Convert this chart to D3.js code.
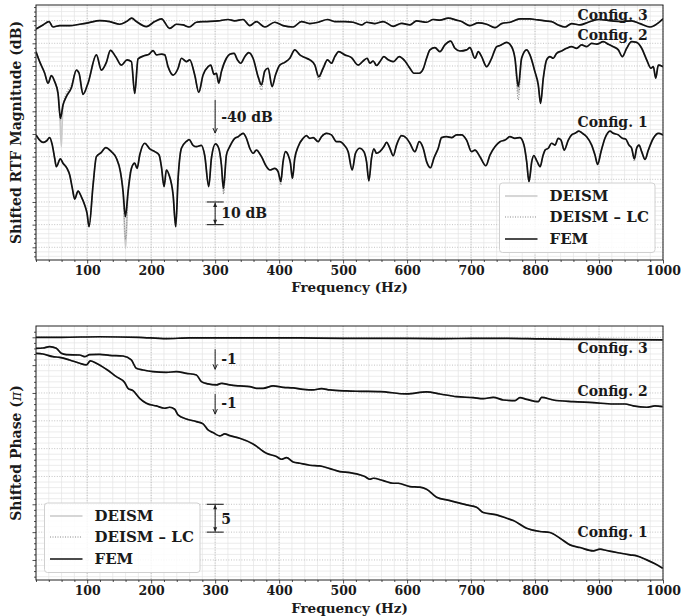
<!DOCTYPE html>
<html><head><meta charset="utf-8">
<script src="https://cdn.jsdelivr.net/npm/d3@7"></script>
<style>
body{margin:0;background:#fff}
svg{display:block}
text{font-family:"DejaVu Serif",serif;font-weight:bold;fill:#1a1a1a}
</style>
</head><body>
<svg id="c" width="697" height="616"></svg>
<script>
// ---------------- DATA ----------------
// Top panel: shifted RTF magnitude (dB), FEM
const magFreq3 = [20,30.9,40.3,46.6,57,72.7,88.3,101.3,119.6,135.2,150.9,161.3,169.6,176.9,192.6,205.6,216,229,239.5,249.9,259.3,270.8,283.7,304.6,320.2,330.7,343.7,354.1,364.5,377.6,393.2,406.2,421.9,434.9,447.9,461,475.6,487,502.7,515.7,528.8,536.6,549.7,562.7,578.3,591.4,604.4,614.8,630.5,640.9,651.3,664.3,677.4,685.2,698.2,711.3,724.3,737.3,747.8,760.8,776.4,792.1,799.8,815.5,825.9,836.3,846.8,857.2,870.2,883.2,898.9,919.7,935.4,951,964,979.7,1000];
const magFem3 = [-3.7,-1.9,-0.4,-2.8,-2.2,-2.2,-1.6,-1.0,0.0,-0.4,-1.6,-0.4,1.1,-0.4,-2.6,-0.4,0.8,-3.4,-1.6,-1.9,-2.8,-0.7,-0.4,-0.1,0.5,-0.1,0.5,-2.2,-0.4,-2.8,-0.7,-2.2,-2.8,-0.4,-1.3,-0.7,0.5,-0.4,-0.4,-0.7,-1.9,-0.7,-1.3,-0.4,-2.5,-1.2,-1.9,-0.1,-0.7,0.5,0.2,1.1,0.2,-0.4,-2.2,-1.0,-1.6,-3.1,-1.3,-0.7,0.8,0.8,0.5,-0.1,-0.4,-1.9,-2.8,-1.3,-1.9,-0.7,0.5,-0.1,-0.4,-0.1,-1.3,-2.8,0.8];

const magFreq2 = [20,25.7,33.6,38.8,44,49.2,54.4,58.1,62.2,67.4,75.3,83.1,87.3,93.5,101.3,114.4,122.2,130,136.3,144.6,153.5,162.3,169.1,174.3,179.5,189.9,196.7,203,208.2,216,221.2,226.4,234.3,242.1,247.3,255.1,260.3,268.1,274.4,281.1,289,293.1,298.3,302,305.6,309.8,317.6,322.8,329.6,334.8,340,346.3,352.5,359.3,367.1,372.4,377.6,382.8,389,394.3,401,408.9,416.7,424.5,432.3,440.1,448,455.8,462,468.8,475.6,481.8,487,493.3,502.7,513.1,523.5,531.4,537.7,541.8,547,552.3,557.5,563.7,570.5,578.3,587.7,596.6,604.4,610.7,619,625.2,630.5,635.7,643.5,651.3,659.1,668,674.8,682.6,693,698.2,706.1,711.3,716.5,724.3,732.1,740,745.2,755.6,763.4,768.6,773.8,779,786.9,792,799.8,805.1,808.7,812.9,818.1,823.3,828.5,833.7,841.5,849.4,857.2,865,872.8,880.6,888.5,896.3,906.7,914.5,922.3,930.2,936.4,943.2,951,958.8,966.7,974.5,981.2,984.9,988.6,992.7,1000];
const magFem2 = [-13.7,-18.1,-23.2,-27.6,-24.3,-26.9,-32.1,-43.1,-37.2,-33.5,-29.6,-21.8,-23.2,-32.5,-27.6,-15.1,-21.8,-18.4,-13.1,-15.9,-19.6,-17.3,-18.1,-32.1,-16.9,-15.4,-14.8,-13.2,-15.1,-14.8,-15.1,-20.3,-24.0,-21.0,-16.6,-18.1,-17.3,-24.0,-31.6,-24.0,-20.3,-19.6,-23.7,-23.2,-27.6,-22.5,-16.6,-14.8,-14.4,-17.3,-18.8,-15.9,-14.1,-16.6,-24.7,-28.4,-22.2,-21.0,-29.1,-24.0,-19.6,-18.4,-16.6,-12.9,-15.1,-16.3,-17.3,-19.6,-24.7,-21.0,-17.3,-18.8,-15.9,-13.7,-15.1,-16.3,-19.6,-17.8,-16.6,-18.8,-17.8,-19.8,-18.1,-15.9,-17.3,-18.1,-15.9,-17.8,-21.0,-23.2,-23.2,-21.3,-16.6,-12.9,-11.9,-13.7,-10.7,-9.0,-12.2,-13.4,-12.9,-11.9,-16.6,-13.7,-15.9,-20.3,-16.6,-11.5,-11.0,-9.6,-11.5,-16.6,-29.1,-16.6,-12.9,-15.1,-22.5,-28.4,-36.5,-25.4,-17.3,-15.9,-16.6,-14.4,-13.4,-12.2,-11.5,-12.2,-10.7,-11.5,-10.0,-10.4,-9.3,-10.4,-11.5,-12.9,-15.9,-12.2,-9.3,-9.6,-12.2,-17.3,-21.0,-20.3,-25.4,-19.6,-20.3];

const magFreq1 = [20,25.7,31,36.2,41.4,45.5,49.2,51.8,58.1,62.2,68.5,72.7,76.8,80.5,85.7,90.9,96.1,99.8,102.9,109.2,114.4,122.2,129,137.8,145.6,151.9,156.1,159.7,163.9,169.1,174.3,178,182.1,190,197.8,205.6,212.4,216,220.2,223.8,228,234.3,238.4,242.1,247.3,255.1,259.3,265.5,270.7,278.5,283.7,290,294.2,300.5,305.6,309.8,312.9,317.6,322.8,330.7,335.9,343.7,348.9,354.1,359.3,364.5,372.4,380.2,385.4,393.2,398.4,402.6,406.2,409.9,414.1,417.7,420.8,424.5,429.7,437.5,442.7,447.9,453.2,461,466.2,474,481.8,489.6,494.9,501.6,507.9,514.2,519.4,526.1,532.5,536.6,540.3,544.4,548.1,552.3,557.5,563.7,567.9,573.1,578.3,583.5,591.4,599.2,604.4,612.2,619,625.2,630.5,636.7,641.9,648.7,653.9,661.7,669.6,677.4,685.2,693,700.8,706.1,713.9,723.2,729.5,737.3,745.2,753,760.8,768.6,776.4,782.7,786.9,790.5,795,798,803,808,812,816,820.7,825.9,831.1,836.3,840.5,845.7,852,857.2,862.4,868.6,873.9,880.6,888.5,893.7,897.8,903.1,909.3,917.1,922.3,930.2,936.4,941.6,946.8,951,955.2,958.8,962.5,966.7,971.9,977.1,984.9,992.7,1000];
const magFem1 = [-50.4,-52.7,-53.7,-53.1,-51.6,-54.9,-60.7,-64.4,-61.0,-62.9,-65.2,-68.1,-74.0,-78.7,-75.2,-77.7,-81.3,-85.0,-90.9,-72.5,-60.0,-58.1,-56.0,-57.8,-60.7,-66.6,-75.5,-86.5,-75.5,-65.2,-62.9,-65.2,-59.3,-54.1,-56.6,-57.8,-59.3,-64.4,-73.2,-65.9,-68.1,-76.9,-90.9,-69.6,-56.3,-53.3,-52.5,-55.0,-55.6,-55.0,-59.5,-73.2,-60.7,-54.4,-56.3,-63.7,-74.0,-59.3,-55.6,-51.9,-51.2,-49.7,-51.9,-56.3,-58.5,-57.1,-60.0,-64.4,-65.9,-65.2,-66.6,-71.0,-62.2,-57.8,-59.3,-62.9,-69.6,-60.7,-55.6,-51.9,-50.7,-51.9,-51.6,-53.4,-51.2,-49.7,-50.4,-53.4,-53.4,-54.9,-57.8,-65.9,-58.5,-56.3,-57.8,-62.2,-70.7,-60.7,-56.6,-58.5,-57.8,-55.6,-53.7,-56.3,-59.6,-54.9,-50.7,-51.9,-54.1,-57.8,-53.4,-56.3,-62.2,-64.9,-60.7,-56.3,-51.6,-51.2,-51.6,-50.4,-50.4,-52.7,-57.8,-57.1,-60.0,-64.0,-59.3,-55.6,-53.4,-52.7,-51.2,-51.9,-51.6,-54.9,-62.2,-71.0,-62.0,-59.5,-62.0,-64.4,-60.0,-57.0,-56.3,-54.1,-54.9,-51.9,-52.7,-57.1,-52.7,-50.4,-49.7,-48.7,-49.7,-51.2,-54.9,-59.3,-63.4,-57.8,-51.9,-48.7,-49.7,-50.4,-51.9,-52.2,-54.9,-56.3,-61.0,-56.3,-54.9,-57.8,-61.2,-57.1,-51.9,-49.7,-50.4];

// DEISM / DEISM-LC deviations from FEM near deep notches ([Hz, dB])
const deismDips2 = [[[54.4,-32.1],[57.0,-40.0],[59.6,-55.6],[61.0,-45.0],[62.2,-37.2]], [[768.6,-16.6],[773.8,-32.0],[779,-16.6]]];
const deismLcDips2 = [[[54.4,-31.5],[58.1,-44.0],[60.5,-41.0],[63.5,-35.5],[67.4,-32.0],[75.3,-28.6]], [[367.1,-24.7],[372.4,-30.6],[377.6,-22.2]], [[462,-26.2]], [[768.6,-16.6],[773.8,-35.0],[779,-16.6]]];
const deismDips1 = [[[156.1,-75.5],[160.0,-100.5],[163.9,-75.5]], [[309.8,-63.7],[313.2,-75.5],[317.6,-59.3]]];
const deismLcDips1 = [[[156.1,-75.5],[160.0,-96.5],[163.9,-75.5]], [[309.8,-63.7],[313.2,-76.5],[317.6,-59.3]], [[402.6,-72.5]], [[955.2,-62.0]]];

// Bottom panel: shifted phase (pi), FEM
const phFreq3 = [20,60,119.5,180,223.8,260,328,380,432.3,500,560,651.3,700,755.6,810,859.8,930,999.5];
const phFem3 = [0.0,0.0,0.1,0.0,-0.24,-0.1,-0.12,-0.1,-0.12,-0.18,-0.18,-0.24,-0.2,-0.18,-0.3,-0.36,-0.4,-0.48];

const phFreq2 = [20,30.9,41.3,51.7,59.5,67.4,88.2,96,103.9,119.5,135.1,156,169,176.8,187.3,202.9,223.8,239.4,255,270.7,278.5,288.9,301.9,309.8,322.8,338.4,354.1,364.5,374.9,390.6,406.2,421.9,437.5,453.1,466.2,479.2,505.3,526.2,557.5,599.2,630.4,651.3,677.4,703.4,719.1,734.7,750.3,768.6,776.4,786.8,805.1,810.3,828.5,859.8,891.1,922.4,940.6,953.6,974.5,987.5,999.5];
const phFem2 = [-1.98,-1.92,-1.68,-1.98,-2.88,-3.12,-3.18,-3.48,-3.12,-3.06,-3.24,-3.36,-4.07,-5.57,-5.87,-6.17,-6.29,-6.17,-6.47,-6.77,-7.96,-8.38,-8.56,-8.26,-8.56,-8.74,-8.86,-9.16,-9.16,-8.74,-8.98,-9.10,-9.34,-9.46,-9.22,-9.46,-9.64,-9.70,-9.76,-10.18,-9.82,-10.18,-10.66,-10.84,-11.02,-10.78,-11.26,-11.38,-10.84,-11.14,-11.56,-10.78,-11.26,-11.56,-11.74,-11.98,-11.98,-12.33,-12.57,-12.33,-12.45];

const phFreq1 = [20,30.9,46.5,56.9,72.6,88.2,98.6,104.9,114.3,129.9,145.6,158.6,163.8,171.6,182,192.5,208.1,221.1,229,236.8,242,255,270.7,281.1,288.9,296.7,307.2,315,322.8,338.4,359.3,380.1,395.8,403.6,411.4,421.9,432.3,447.9,463.5,479.2,494.8,510.5,521,534,541.8,547,562.7,578.3,586.1,604.4,620,630.4,646.1,666.9,693,708.6,719.1,739.9,755.6,766,786.8,794.6,807.7,823.3,839,854.6,870.2,891.1,901.5,911.9,927.6,948.4,958.9,974.5,987.5,999.5];
const phFem1 = [-2.88,-3.00,-3.48,-3.60,-4.07,-4.67,-4.97,-4.25,-4.67,-5.75,-7.07,-8.14,-9.16,-9.58,-10.96,-11.85,-12.33,-12.75,-12.57,-12.93,-13.95,-14.67,-15.14,-15.56,-16.64,-17.12,-17.72,-17.36,-17.66,-18.14,-19.15,-20.83,-21.43,-21.91,-21.61,-22.39,-22.63,-22.98,-23.10,-23.58,-24.12,-24.30,-24.54,-25.02,-25.50,-25.32,-25.74,-26.22,-26.22,-26.81,-26.93,-27.29,-28.73,-29.33,-30.11,-30.52,-31.48,-31.90,-32.50,-32.92,-34.29,-34.59,-34.89,-35.07,-36.09,-37.29,-37.76,-38.36,-38.06,-38.30,-38.66,-39.08,-39.26,-39.98,-40.70,-41.48];

// Axis ticks
const freqTicks = [100,200,300,400,500,600,700,800,900,1000];
const configLabels = ["Config. 1","Config. 2","Config. 3"];
const legendLabels = ["DEISM","DEISM \u2013 LC","FEM"];

// ---------------- CHART ----------------
const svg = d3.select("#c");
const L = 36, R = 663;
const x = d3.scaleLinear().domain([20,1000]).range([L,R]);
const yMag = d3.scaleLinear().domain([-105.6,6.9]).range([260,5]);
const yPh = d3.scaleLinear().domain([-43.6,2.03]).range([580,326]);

const defs = svg.append("defs");
function clip(id, y0, y1){
  defs.append("clipPath").attr("id",id).append("rect").attr("x",L).attr("y",y0).attr("width",R-L).attr("height",y1-y0);
}
clip("cp1",5,260); clip("cp2",326,580);

function zip(fs, vs){ return fs.map((f,i)=>[f,vs[i]]); }
function withDips(fs, vs, dips){
  let pts = zip(fs, vs);
  dips.forEach(seg=>{
    const lo = seg[0][0], hi = seg[seg.length-1][0];
    pts = pts.filter(p=>p[0]<lo||p[0]>hi).concat(seg);
  });
  return pts.sort((a,b)=>a[0]-b[0]);
}

function panel(y, y0, y1, majorY, minorY, clipId){
  const g = svg.append("g");
  d3.range(20,1001,20).forEach(f=>{
    g.append("line").attr("x1",x(f)).attr("x2",x(f)).attr("y1",y0).attr("y2",y1)
      .attr("stroke","#e4e4e4").attr("stroke-width",0.7);
  });
  minorY.forEach(v=>{
    g.append("line").attr("x1",L).attr("x2",R).attr("y1",y(v)).attr("y2",y(v))
      .attr("stroke","#e4e4e4").attr("stroke-width",0.7);
  });
  freqTicks.forEach(f=>{
    g.append("line").attr("x1",x(f)).attr("x2",x(f)).attr("y1",y0).attr("y2",y1)
      .attr("stroke","#b4b4b4").attr("stroke-width",0.8).attr("stroke-dasharray","1,1.6");
  });
  majorY.forEach(v=>{
    g.append("line").attr("x1",L).attr("x2",R).attr("y1",y(v)).attr("y2",y(v))
      .attr("stroke","#b4b4b4").attr("stroke-width",0.8).attr("stroke-dasharray","1,1.6");
  });
  const lg = svg.append("g").attr("clip-path",`url(#${clipId})`);
  return {g, lg};
}

function frameAndAxes(y, y0, y1, majorY, minorY){
  const g = svg.append("g");
  const xa = g.append("g").attr("transform",`translate(0,${y1})`)
    .call(d3.axisBottom(x).tickValues(freqTicks).tickSize(3.5).tickPadding(3).tickFormat(d3.format("d")));
  xa.select(".domain").remove();
  xa.selectAll("text").attr("font-size",12.5).attr("font-family","DejaVu Serif").attr("font-weight","bold").attr("fill","#1a1a1a");
  const xm = g.append("g").attr("transform",`translate(0,${y1})`)
    .call(d3.axisBottom(x).tickValues(d3.range(20,1001,20).filter(f=>f%100)).tickSize(2).tickFormat(""));
  xm.select(".domain").remove();
  const ya = g.append("g").attr("transform",`translate(${L},0)`)
    .call(d3.axisLeft(y).tickValues(majorY).tickSize(3.5).tickFormat(""));
  ya.select(".domain").remove();
  const ym = g.append("g").attr("transform",`translate(${L},0)`)
    .call(d3.axisLeft(y).tickValues(minorY).tickSize(2).tickFormat(""));
  ym.select(".domain").remove();
  g.selectAll(".tick line").attr("stroke","#222").attr("stroke-width",0.8);
  g.append("rect").attr("x",L).attr("y",y0).attr("width",R-L).attr("height",y1-y0)
    .attr("fill","none").attr("stroke","#222").attr("stroke-width",1);
}

function drawLines(lg, y, series){
  const line = d3.line().x(d=>x(d[0])).y(d=>y(d[1])).curve(d3.curveMonotoneX);
  series.forEach(s=>{
    lg.append("path").datum(s.deism).attr("d",line).attr("fill","none")
      .attr("stroke","#c9c9c9").attr("stroke-width",1.6);
  });
  series.forEach(s=>{
    lg.append("path").datum(s.lc).attr("d",line).attr("fill","none")
      .attr("stroke","#8a8a8a").attr("stroke-width",1.1).attr("stroke-dasharray","1,1.5");
  });
  series.forEach(s=>{
    lg.append("path").datum(s.fem).attr("d",line).attr("fill","none")
      .attr("stroke","#111").attr("stroke-width",1.7).attr("stroke-linejoin","round");
  });
}

function arrowDown(g, px, ya, yb){
  g.append("line").attr("x1",px).attr("x2",px).attr("y1",ya).attr("y2",yb).attr("stroke","#222").attr("stroke-width",1);
  g.append("path").attr("d",`M${px-2.2},${yb-5} L${px},${yb} L${px+2.2},${yb-5}`).attr("fill","none").attr("stroke","#222").attr("stroke-width",1);
}
function scaleBar(g, px, ya, yb){
  g.append("line").attr("x1",px).attr("x2",px).attr("y1",ya+0.5).attr("y2",yb-0.5).attr("stroke","#222").attr("stroke-width",1);
  g.append("path").attr("d",`M${px-2},${ya+5} L${px},${ya+0.5} L${px+2},${ya+5} Z`).attr("fill","#222");
  g.append("path").attr("d",`M${px-2},${yb-5} L${px},${yb-0.5} L${px+2},${yb-5} Z`).attr("fill","#222");
  [ya,yb].forEach(v=>g.append("line").attr("x1",px-8.5).attr("x2",px+8.5).attr("y1",v).attr("y2",v).attr("stroke","#222").attr("stroke-width",1.1));
}
function legend(g, bx, by){
  g.append("rect").attr("x",bx).attr("y",by).attr("width",155.5).attr("height",69.5).attr("rx",3)
    .attr("fill","#fff").attr("fill-opacity",0.85).attr("stroke","#d0d0d0").attr("stroke-width",1);
  const rows = [13,34,56];
  const styles = [
    {c:"#c9c9c9",w:1.6,d:null},
    {c:"#8a8a8a",w:1.1,d:"1,1.5"},
    {c:"#111",w:1.7,d:null}];
  legendLabels.forEach((t,i)=>{
    const yy = by+rows[i];
    const ln = g.append("line").attr("x1",bx+5.5).attr("x2",bx+38).attr("y1",yy).attr("y2",yy)
      .attr("stroke",styles[i].c).attr("stroke-width",styles[i].w);
    if(styles[i].d) ln.attr("stroke-dasharray",styles[i].d);
    g.append("text").attr("x",bx+50).attr("y",yy+5.3).attr("font-size",15).text(t);
  });
}

// ---- Top panel ----
const magMajor = d3.range(-100,1,10);
const magMinor = d3.range(-104,7,2).filter(v=>v%10);
const p1 = panel(yMag,5,260,magMajor,magMinor,"cp1");
drawLines(p1.lg, yMag, [
  {fem:zip(magFreq3,magFem3), deism:zip(magFreq3,magFem3), lc:zip(magFreq3,magFem3)},
  {fem:zip(magFreq2,magFem2), deism:withDips(magFreq2,magFem2,deismDips2), lc:withDips(magFreq2,magFem2,deismLcDips2)},
  {fem:zip(magFreq1,magFem1), deism:withDips(magFreq1,magFem1,deismDips1), lc:withDips(magFreq1,magFem1,deismLcDips1)}
]);
const a1 = svg.append("g");
arrowDown(a1, x(300), yMag(-35), yMag(-49.6));
a1.append("text").attr("x",x(300)+6).attr("y",121.5).attr("font-size",14).text("-40 dB");
scaleBar(a1, x(300), yMag(-80), yMag(-90));
a1.append("text").attr("x",x(300)+6).attr("y",218).attr("font-size",14).text("10 dB");
[[configLabels[2],19.5],[configLabels[1],39.5],[configLabels[0],127]].forEach(([t,yy])=>{
  a1.append("text").attr("x",577.5).attr("y",yy).attr("font-size",14).text(t);
});
legend(a1, 499.5, 183);
frameAndAxes(yMag,5,260,magMajor,magMinor);
svg.append("text").attr("x",(L+R)/2).attr("y",291.5).attr("text-anchor","middle").attr("font-size",13.5).text("Frequency (Hz)");
svg.append("text").attr("transform",`translate(21,${(5+260)/2}) rotate(-90)`).attr("text-anchor","middle")
  .attr("font-size",14).text("Shifted RTF Magnitude (dB)");

// ---- Bottom panel ----
const phMajor = d3.range(-40,1,5);
const phMinor = d3.range(-43,2,1).filter(v=>v%5);
const p2 = panel(yPh,326,580,phMajor,phMinor,"cp2");
drawLines(p2.lg, yPh, [
  {fem:zip(phFreq3,phFem3), deism:zip(phFreq3,phFem3), lc:zip(phFreq3,phFem3)},
  {fem:zip(phFreq2,phFem2), deism:zip(phFreq2,phFem2), lc:zip(phFreq2,phFem2)},
  {fem:zip(phFreq1,phFem1), deism:zip(phFreq1,phFem1), lc:zip(phFreq1,phFem1)}
]);
const a2 = svg.append("g");
arrowDown(a2, x(300), yPh(-2.15), yPh(-5.75));
a2.append("text").attr("x",x(300)+6).attr("y",364).attr("font-size",14).text("-1");
arrowDown(a2, x(300), yPh(-10.2), yPh(-13.8));
a2.append("text").attr("x",x(300)+6).attr("y",408).attr("font-size",14).text("-1");
scaleBar(a2, x(300), yPh(-30), yPh(-35));
a2.append("text").attr("x",x(300)+6).attr("y",523.5).attr("font-size",14).text("5");
[[configLabels[2],353],[configLabels[1],396],[configLabels[0],537]].forEach(([t,yy])=>{
  a2.append("text").attr("x",577.5).attr("y",yy).attr("font-size",14).text(t);
});
legend(a2, 44.5, 503);
frameAndAxes(yPh,326,580,phMajor,phMinor);
svg.append("text").attr("x",(L+R)/2).attr("y",612.5).attr("text-anchor","middle").attr("font-size",13.5).text("Frequency (Hz)");
const yl2 = svg.append("text").attr("transform",`translate(21,${(326+580)/2}) rotate(-90)`).attr("text-anchor","middle")
  .attr("font-size",14);
yl2.append("tspan").text("Shifted Phase (");
yl2.append("tspan").attr("font-style","italic").attr("font-weight","normal").text("\u03c0");
yl2.append("tspan").text(")");
</script>
</body></html>
